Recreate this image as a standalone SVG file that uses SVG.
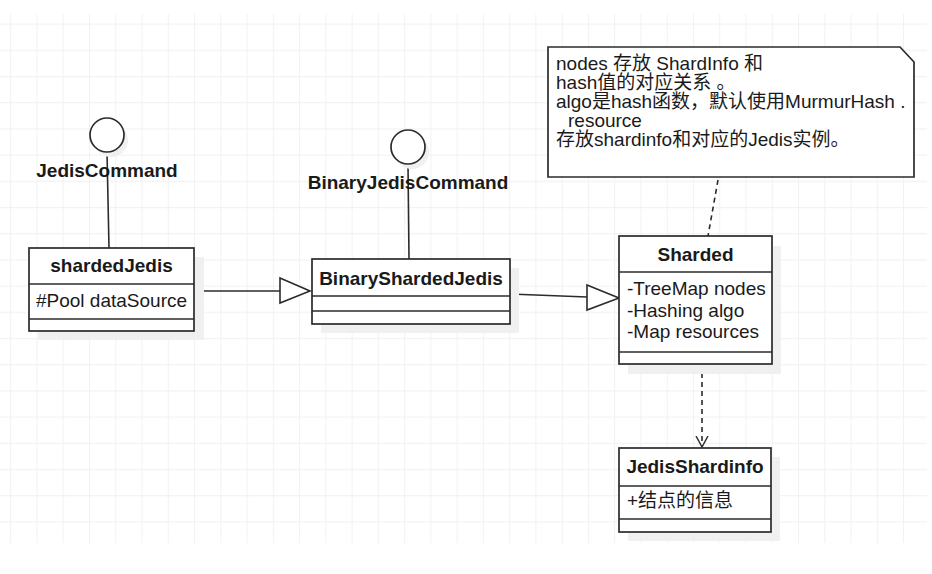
<svg xmlns="http://www.w3.org/2000/svg" width="932" height="574" viewBox="0 0 932 574">
<defs>
<pattern id="grid" patternUnits="userSpaceOnUse" x="10.2" y="23.5" width="26.26" height="26.2">
<path d="M0.5 0V26.2M0 0.5H26.26" fill="none" stroke="#f2f2f2" stroke-width="1.2"/>
</pattern>
<marker id="open" viewBox="0 0 12 14" refX="11" refY="7" markerWidth="12" markerHeight="14" markerUnits="userSpaceOnUse" orient="auto">
<path d="M0 1L11 7L0 13" fill="none" stroke="#333" stroke-width="1.5"/>
</marker>
</defs>
<style>
.box{fill:#fff;stroke:#2b2b2b;stroke-width:1.7}
.sh{fill:#f0f0f0}
.ln{fill:none;stroke:#2b2b2b;stroke-width:1.6}
.tri{fill:#fff;stroke:#2b2b2b;stroke-width:1.6}
.dash{fill:none;stroke:#2b2b2b;stroke-width:1.6;stroke-dasharray:5 4}
.t{font-family:"Liberation Sans","Noto Sans CJK SC",sans-serif;font-size:19px;fill:#1a1a1a}
.b{font-weight:bold;text-anchor:middle}
</style>
<rect x="0" y="0" width="932" height="574" fill="#fff"/>
<rect x="0" y="14" width="927" height="529" fill="url(#grid)"/>

<g id="connectors">
<line class="ln" x1="107" y1="152" x2="109" y2="248"/>
<line class="ln" x1="408" y1="164" x2="409" y2="259"/>
<line class="ln" x1="194" y1="291" x2="280" y2="291"/>
<polygon class="tri" points="280,278 310,291 280,303"/>
<line class="ln" x1="510" y1="294" x2="587" y2="297"/>
<polygon class="tri" points="587,285 619,298 587,310"/>
<line class="dash" x1="718" y1="180" x2="708" y2="236"/>
<line class="dash" x1="702" y1="364" x2="702" y2="447" marker-end="url(#open)"/>
</g>

<g id="JedisCommand">
<circle class="sh" cx="111" cy="140" r="17"/>
<circle class="box" cx="107" cy="135" r="17"/>
<text class="t b" x="107" y="177">JedisCommand</text>
</g>

<g id="BinaryJedisCommand">
<circle class="sh" cx="412" cy="152" r="17"/>
<circle class="box" cx="408" cy="147" r="17"/>
<text class="t b" x="408" y="189">BinaryJedisCommand</text>
</g>

<g id="shardedJedis">
<rect class="sh" x="38" y="257" width="166" height="83"/>
<rect class="box" x="29" y="248" width="165" height="83"/>
<line class="ln" x1="29" y1="284" x2="194" y2="284"/>
<line class="ln" x1="29" y1="319" x2="194" y2="319"/>
<text class="t b" x="111.5" y="272">shardedJedis</text>
<text class="t" x="36" y="307">#Pool dataSource</text>
</g>

<g id="BinaryShardedJedis">
<rect class="sh" x="321" y="268" width="198" height="65"/>
<rect class="box" x="312" y="259" width="198" height="65"/>
<line class="ln" x1="312" y1="296" x2="510" y2="296"/>
<line class="ln" x1="312" y1="311" x2="510" y2="311"/>
<text class="t b" x="411" y="285">BinaryShardedJedis</text>
</g>

<g id="note">
<polygon class="box" points="548,47 900,47 914,62 914,177 548,177"/>
<text class="t" x="556" y="70">nodes 存放 ShardInfo 和</text>
<text class="t" x="556" y="89">hash值的对应关系 。</text>
<text class="t" x="556" y="108">algo是hash函数，默认使用MurmurHash .</text>
<text class="t" x="568" y="127">resource</text>
<text class="t" x="556" y="146">存放shardinfo和对应的Jedis实例。</text>
</g>

<g id="Sharded">
<rect class="sh" x="628" y="246" width="153" height="128"/>
<rect class="box" x="619" y="236" width="153" height="128"/>
<line class="ln" x1="619" y1="272" x2="772" y2="272"/>
<line class="ln" x1="619" y1="352" x2="772" y2="352"/>
<text class="t b" x="695.5" y="261">Sharded</text>
<text class="t" x="627" y="295">-TreeMap nodes</text>
<text class="t" x="627" y="317">-Hashing algo</text>
<text class="t" x="627" y="338">-Map resources</text>
</g>

<g id="JedisShardinfo">
<rect class="sh" x="628" y="457" width="152" height="84"/>
<rect class="box" x="619" y="448" width="152" height="84"/>
<line class="ln" x1="619" y1="486" x2="771" y2="486"/>
<line class="ln" x1="619" y1="519" x2="771" y2="519"/>
<text class="t b" x="695" y="473">JedisShardinfo</text>
<text class="t" x="627" y="507">+结点的信息</text>
</g>
</svg>
